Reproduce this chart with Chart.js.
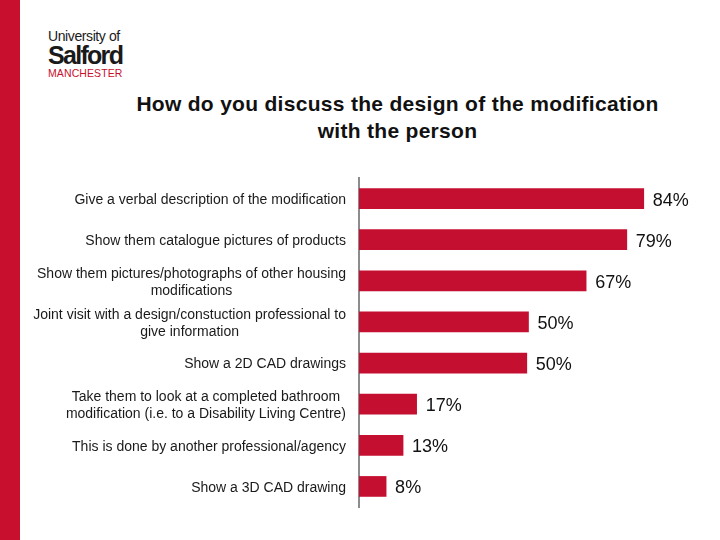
<!DOCTYPE html>
<html>
<head>
<meta charset="utf-8">
<script src="https://cdn.jsdelivr.net/npm/chart.js@4.4.0/dist/chart.umd.min.js"></script>
<style>
  body { margin: 0; background: #fff; }
  #page { position: relative; width: 720px; height: 540px; overflow: hidden; font-family: Arial, "Liberation Sans", sans-serif; }
  #strip { position: absolute; left: 0; top: 0; width: 20px; height: 540px; background: #c8102e; }
  #logo { position: absolute; left: 48px; top: 28px; color: #1a1a1a; }
  #logo .uni { font-size: 14px; letter-spacing: -0.4px; line-height: 16px; }
  #logo .sal { font-size: 25px; font-weight: bold; letter-spacing: -1.7px; line-height: 22px; }
  #logo .man { font-size: 10.5px; color: #c8102e; letter-spacing: 0.1px; line-height: 12px; margin-top: 1px; }
  #title { position: absolute; left: 75px; width: 645px; top: 90px; text-align: center; font-size: 21px; font-weight: bold; letter-spacing: 0.3px; line-height: 27px; color: #111; }
  #chart { position: absolute; left: 0; top: 0; }
</style>
</head>
<body>
<div id="page">
  <div id="strip"></div>
  <div id="logo">
    <div class="uni">University of</div>
    <div class="sal">Salford</div>
    <div class="man">MANCHESTER</div>
  </div>
  <div id="title">How do you discuss the design of the modification<br>with the person</div>
  <canvas id="chart" width="720" height="540"></canvas>
</div>
<script>
var categories = [
    ["Give a verbal description of the modification"],
    ["Show them catalogue pictures of products"],
    ["Show them pictures/photographs of other housing", "modifications"],
    ["Joint visit with a design/constuction professional to", "give information"],
    ["Show a 2D CAD drawings"],
    ["Take them to look at a completed bathroom", "modification (i.e. to a Disability Living Centre)"],
    ["This is done by another professional/agency"],
    ["Show a 3D CAD drawing"]
];
var values = [84, 79, 67, 50, 49.5, 17, 13, 8];
var valueLabels = ["84%", "79%", "67%", "50%", "50%", "17%", "13%", "8%"];

var barRed = "#c40f30";

// category labels: block right-aligned next to the axis, lines centred inside the block
var categoryLabels = {
    id: "categoryLabels",
    afterDraw: function (chart) {
        var ctx = chart.ctx;
        var yScale = chart.scales.y;
        var right = chart.chartArea.left - 13;
        ctx.save();
        ctx.font = "14px Arial, 'Liberation Sans', sans-serif";
        ctx.fillStyle = "#1a1a1a";
        ctx.textAlign = "center";
        ctx.textBaseline = "middle";
        categories.forEach(function (lines, i) {
            var y = yScale.getPixelForTick(i) + 1.5;
            var w = 0;
            lines.forEach(function (l) { w = Math.max(w, ctx.measureText(l).width); });
            var cx = right - w / 2;
            var lh = 17;
            var y0 = y - (lines.length - 1) * lh / 2;
            lines.forEach(function (l, j) { ctx.fillText(l, cx, y0 + j * lh); });
        });
        ctx.restore();
    }
};

var valueText = {
    id: "valueText",
    afterDatasetsDraw: function (chart) {
        var ctx = chart.ctx;
        var meta = chart.getDatasetMeta(0);
        ctx.save();
        ctx.font = "18px Arial, 'Liberation Sans', sans-serif";
        ctx.fillStyle = "#111";
        ctx.textAlign = "left";
        ctx.textBaseline = "middle";
        meta.data.forEach(function (bar, i) {
            ctx.fillText(valueLabels[i], bar.x + 9, bar.y + 2);
        });
        ctx.restore();
    }
};

new Chart("chart", {
    type: "bar",
    data: {
        labels: categories,
        datasets: [{
            data: values,
            backgroundColor: barRed,
            borderWidth: 0,
            barThickness: 20
        }]
    },
    options: {
        indexAxis: "y",
        responsive: false,
        animation: false,
        layout: {padding: {left: 20, top: 178, right: 22, bottom: 33}},
        plugins: {
            legend: {display: false},
            tooltip: {enabled: false}
        },
        scales: {
            x: {display: false, min: 0, max: 100},
            y: {
                grid: {display: false},
                border: {display: true, color: "#8c8c8c", width: 2},
                ticks: {display: false},
                afterFit: function (scale) { scale.width = 339; }
            }
        }
    },
    plugins: [categoryLabels, valueText]
});
</script>
</body>
</html>
